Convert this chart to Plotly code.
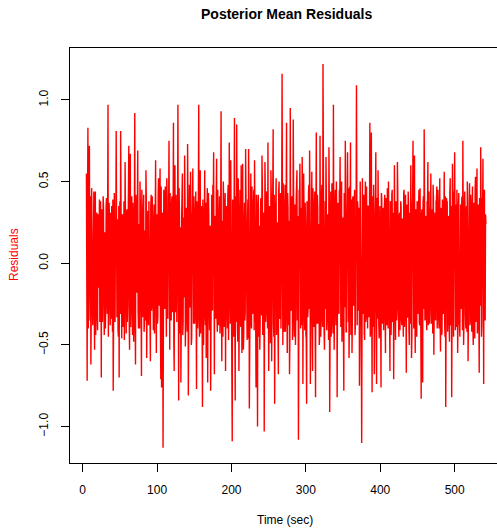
import plotly.graph_objects as go

# Posterior mean residuals.
# Samples on whole seconds, starting at t = 5 s
residuals = [
    0.55, -0.72, 0.83, -0.15, 0.72, -0.35, -0.62, 0.46, 0.12, -0.28,
    0.44, -0.53, 0.44, -0.18, 0.31, -0.41, 0.22, 0.05, -0.36, 0.38,
    -0.70, 0.26, -0.12, 0.34, -0.44, 0.18, -0.25, 0.40, -0.31, 0.97,
    -0.22, 0.29, -0.38, 0.15, 0.35, -0.42, -0.78, 0.30, -0.10, 0.24,
    0.81, -0.33, 0.21, -0.45, -0.70, 0.38, 0.81, -0.27, 0.12, -0.39,
    0.33, -0.47, 0.62, -0.21, 0.28, -0.36, 0.19, 0.72, -0.53, 0.67,
    -0.25, 0.41, -0.44, 0.16, -0.30, 0.92, -0.62, 0.35, -0.18, 0.69,
    -0.40, 0.24, 0.50, -0.30, -0.69, 0.33, -0.15, 0.42, -0.37, 0.20,
    0.57, -0.58, 0.27, -0.32, 0.38, -0.20, -0.60, 0.42, -0.26, 0.14,
    -0.41, 0.36, -0.09, 0.63, -0.55, 0.22, -0.33, 0.52, -0.24, 0.58,
    -0.71, -0.76, 0.31, -1.13, 0.45, -0.22, 0.47, -0.38, 0.52, -0.15,
    0.29, 0.75, -0.53, 0.20, -0.35, 0.41, -0.27, 0.86, -0.66, 0.60,
    -0.30, 0.25, -0.12, 0.97, -0.84, 0.33, -0.43, -0.73, 0.28, 0.55,
    -0.36, 0.19, 0.66, -0.51, 0.34, -0.25, 0.73, -0.81, 0.40, -0.22,
    0.56, -0.50, 0.31, 0.58, -0.37, 0.22, -0.29, 0.44, -0.77, 0.18,
    -0.31, 0.97, -0.45, 0.57, -0.20, 0.35, -0.88, 0.27, -0.14, 0.57,
    -0.38, -0.58, 0.32, -0.73, 0.43, -0.26, 0.21, -0.78, 0.37, -0.19,
    0.48, 0.68, -0.68, 0.25, -0.34, 0.64, -0.42, 0.30, -0.22, 0.41,
    -0.33, 0.93, -0.60, 0.18, 0.50, -0.39, 0.27, -0.66, 0.35, -0.28,
    0.40, -0.47, 0.74, -0.31, 0.63, -0.24, -1.09, 0.36, -0.45, 0.89,
    -0.84, 0.30, 0.85, -0.40, 0.52, -0.66, 0.28, -0.33, 0.60, -0.55,
    0.61, -0.53, 0.24, -0.35, 0.70, -0.28, -0.47, 0.39, 0.70, -0.89,
    0.31, 0.55, -0.40, 0.22, -0.31, 0.45, 0.63, -0.36, -0.76, 0.27,
    -1.00, 0.42, -0.25, -0.53, 0.33, -0.19, 0.66, -0.44, 0.29, -1.03,
    0.62, -0.36, 0.40, -0.22, 0.74, -0.66, 0.35, -0.29, 0.57, -0.60,
    0.28, 0.82, -0.45, -0.86, 0.37, 0.52, -0.31, 0.25, -0.68, 0.50,
    -0.34, 0.43, -0.21, 1.16, -0.50, 0.30, -0.42, 0.48, -0.26, 0.86,
    -0.55, 0.33, -0.38, -0.68, 0.95, -0.29, 0.41, -0.47, 0.88, -0.35,
    0.27, -0.50, 0.39, 0.57, -0.33, -1.08, 0.45, 0.61, -0.40, 0.23,
    0.65, -0.74, 0.55, -0.30, 0.37, -0.44, -0.86, 0.32, -0.27, 0.48,
    0.69, -0.74, 0.35, 0.56, -0.66, 0.28, -0.39, 0.44, -0.82, 0.80,
    -0.37, 0.34, -0.28, -0.50, 0.78, -0.45, 0.41, -0.32, 1.22, -0.35,
    -0.53, 0.38, 0.65, -0.41, 0.30, -0.26, 0.71, -0.91, 0.40, -0.45,
    0.49, -0.30, 0.97, -0.53, 0.34, -0.22, 0.50, -0.82, 0.37, -0.28,
    0.45, 0.65, -0.39, 0.50, -0.33, -0.53, -0.78, 0.36, 0.75, -0.42,
    0.29, 0.68, -0.36, -0.58, 0.47, 0.74, -0.31, -0.55, 0.40, -0.23,
    0.36, -0.44, 0.25, 1.09, -0.38, 0.33, -0.29, -0.75, 0.50, -0.35,
    -1.10, 0.52, -0.30, 0.41, -0.47, 0.50, -0.33, 0.27, -0.40, 0.35,
    -0.28, 0.86, -0.42, 0.80, -0.79, 0.33, 0.48, -0.68, 0.30, 0.68,
    -0.74, 0.40, 0.57, -0.37, 0.26, -0.45, -0.76, 0.40, -0.31, 0.34,
    -0.25, 0.42, -0.55, 0.30, -0.38, 0.22, 0.50, -0.40, -0.66, 0.36,
    -0.29, 0.45, -0.33, -0.71, 0.60, -0.27, 0.38, -0.35, 0.62, -0.22,
    -0.45, 0.31, -0.19, 0.35, -0.38, 0.27, -0.45, 0.45, -0.30, 0.42,
    -0.67, 0.29, -0.33, 0.37, -0.50, 0.24, 0.60, -0.58, 0.33, 0.75,
    -0.40, 0.66, -0.55, 0.28, -0.45, 0.36, -0.31, 0.45, -0.38, 0.20,
    -0.83, 0.33, -0.73, 0.41, 0.82, -0.35, 0.27, -0.30, 0.38, 0.62,
    -0.25, -0.37, 0.34, 0.55, -0.29, 0.30, 0.48, -0.56, 0.26, -0.33,
    0.38, 0.47, -0.30, 0.31, -0.40, 0.52, -0.54, 0.28, -0.42, 0.35,
    -0.31, 0.56, -0.45, -0.88, 0.40, 0.38, -0.33, 0.29, -0.48, 0.52,
    -0.36, -0.82, 0.61, -0.30, 0.44, 0.68, -0.41, 0.33, 0.45, -0.55,
    0.30, -0.37, -0.45, 0.36, -0.28, 0.41, 0.75, -0.50, 0.27, 0.32,
    -0.40, 0.35, 0.50, -0.60, 0.28, 0.49, -0.35, 0.31, -0.42, 0.47,
    -0.50, 0.33, -0.46, 0.53, -0.30, 0.58, -0.38, 0.36, -0.67, 0.29,
    0.71, -0.45, 0.40, 0.64, -0.74, 0.45, -0.35, 0.24,
]

# Samples on half seconds, starting at t = 5.5 s
residuals_half = [
    -0.21, 0.34, -0.40, 0.28, -0.12, 0.41, -0.30, 0.25, -0.38, 0.17,
    -0.29, 0.36, -0.44, 0.22, -0.33, 0.30, -0.15, 0.39, -0.27, 0.12,
    0.33, -0.36, 0.41, -0.24, 0.19, -0.40, 0.35, -0.18, 0.29, -0.45,
    0.37, -0.26, 0.31, -0.34, 0.20, 0.39, -0.29, 0.43, -0.36, 0.15,
    -0.32, 0.27, -0.41, 0.35, 0.22, -0.31, 0.40, -0.46, 0.30, -0.20,
    0.38, -0.28, 0.16, -0.43, 0.33, -0.25, 0.44, -0.35, 0.26, -0.39,
    0.31, -0.22, 0.37, -0.48, 0.29, -0.36, 0.42, -0.17, 0.34, -0.30,
    0.21, -0.40, 0.36, -0.27, 0.45, -0.33, 0.28, -0.42, 0.19, -0.35,
    0.40, -0.24, 0.32, -0.38, 0.14, -0.47, 0.35, -0.29, 0.41, -0.31,
    0.26, -0.43, 0.38, -0.20, 0.30, -0.37, 0.44, -0.26, 0.33, -0.40,
    0.47, -0.32, 0.24, -0.39, 0.36, -0.28, 0.20, -0.45, 0.40, -0.34,
    0.30, -0.41, 0.43, -0.23, 0.37, -0.30, 0.27, -0.49, 0.35, -0.19,
    0.42, -0.36, 0.31, -0.25, 0.46, -0.38, 0.22, -0.33, 0.39, -0.44,
    0.28, -0.21, 0.40, -0.35, 0.17, -0.42, 0.36, -0.29, 0.48, -0.27,
    0.33, -0.46, 0.25, -0.31, 0.41, -0.37, 0.30, -0.24, 0.38, -0.40,
    0.44, -0.28, 0.35, -0.43, 0.21, -0.34, 0.39, -0.50, 0.27, -0.32,
    0.37, -0.25, 0.46, -0.39, 0.30, -0.41, 0.23, -0.36, 0.42, -0.29,
    0.34, -0.47, 0.29, -0.22, 0.40, -0.33, 0.45, -0.38, 0.19, -0.43,
    0.36, -0.30, 0.26, -0.45, 0.38, -0.24, 0.43, -0.35, 0.31, -0.40,
    0.48, -0.27, 0.33, -0.37, 0.22, -0.44, 0.39, -0.31, 0.35, -0.26,
    0.41, -0.36, 0.28, -0.48, 0.34, -0.23, 0.45, -0.39, 0.30, -0.33,
    0.25, -0.42, 0.37, -0.29, 0.43, -0.35, 0.20, -0.46, 0.39, -0.28,
    0.32, -0.38, 0.47, -0.24, 0.36, -0.41, 0.29, -0.34, 0.42, -0.30,
    0.35, -0.45, 0.23, -0.37, 0.40, -0.32, 0.46, -0.27, 0.31, -0.43,
    0.38, -0.29, 0.44, -0.40, 0.27, -0.35, 0.33, -0.49, 0.41, -0.25,
    0.30, -0.37, 0.42, -0.31, 0.36, -0.44, 0.24, -0.38, 0.45, -0.33,
    0.28, -0.40, 0.35, -0.26, 0.49, -0.36, 0.31, -0.42, 0.38, -0.30,
    0.43, -0.34, 0.26, -0.47, 0.37, -0.28, 0.40, -0.39, 0.22, -0.45,
    0.36, -0.31, 0.44, -0.35, 0.29, -0.43, 0.41, -0.26, 0.34, -0.38,
    0.47, -0.30, 0.32, -0.41, 0.25, -0.46, 0.38, -0.33, 0.43, -0.28,
    0.39, -0.44, 0.30, -0.36, 0.46, -0.27, 0.35, -0.40, 0.28, -0.34,
    0.42, -0.37, 0.24, -0.45, 0.33, -0.30, 0.48, -0.39, 0.31, -0.42,
    0.36, -0.28, 0.41, -0.33, 0.27, -0.47, 0.37, -0.25, 0.44, -0.35,
    0.30, -0.43, 0.39, -0.29, 0.45, -0.38, 0.26, -0.41, 0.34, -0.31,
    0.40, -0.36, 0.32, -0.48, 0.28, -0.34, 0.43, -0.27, 0.37, -0.42,
    0.33, -0.30, 0.46, -0.37, 0.24, -0.44, 0.39, -0.32, 0.41, -0.26,
    0.45, -0.39, 0.29, -0.35, 0.38, -0.28, 0.34, -0.46, 0.27, -0.40,
    0.37, -0.31, 0.42, -0.43, 0.30, -0.36, 0.47, -0.29, 0.35, -0.33,
    0.28, -0.45, 0.36, -0.24, 0.41, -0.39, 0.32, -0.42, 0.44, -0.30,
    0.39, -0.34, 0.27, -0.46, 0.35, -0.31, 0.43, -0.37, 0.29, -0.41,
    0.34, -0.28, 0.40, -0.33, 0.46, -0.40, 0.25, -0.35, 0.38, -0.44,
    0.42, -0.36, 0.31, -0.29, 0.37, -0.47, 0.33, -0.26, 0.45, -0.32,
    0.29, -0.41, 0.38, -0.35, 0.27, -0.30, 0.43, -0.39, 0.34, -0.25,
    0.36, -0.33, 0.44, -0.40, 0.31, -0.37, 0.26, -0.45, 0.40, -0.29,
    0.41, -0.27, 0.33, -0.42, 0.38, -0.24, 0.35, -0.36, 0.46, -0.31,
    0.30, -0.44, 0.37, -0.28, 0.42, -0.34, 0.29, -0.41, 0.36, -0.38,
    0.44, -0.30, 0.27, -0.37, 0.33, -0.43, 0.40, -0.26, 0.31, -0.35,
    0.38, -0.40, 0.45, -0.32, 0.28, -0.36, 0.34, -0.44, 0.39, -0.27,
    0.32, -0.35, 0.41, -0.29, 0.37, -0.42, 0.26, -0.33, 0.43, -0.38,
    0.35, -0.31, 0.28, -0.45, 0.40, -0.27, 0.36, -0.39, 0.30, -0.34,
    0.43, -0.37, 0.33, -0.26, 0.39, -0.41, 0.29, -0.35, 0.44, -0.30,
    0.31, -0.42, 0.38, -0.34, 0.27, -0.38, 0.42, -0.28, 0.35, -0.40,
    0.37, -0.29, 0.45, -0.36, 0.32, -0.43, 0.30, -0.33, 0.40, -0.26,
    0.34, -0.38, 0.28, -0.31, 0.36, -0.27, 0.30,
]
start_time = 5

# merge the two sample sets in time order
time_sec, values = [], []
for i, v in enumerate(residuals):
    time_sec.append(start_time + i)
    values.append(v)
    if i < len(residuals_half):
        time_sec.append(start_time + i + 0.5)
        values.append(residuals_half[i])

x_ticks = [0, 100, 200, 300, 400, 500]
y_ticks = [-1.0, -0.5, 0.0, 0.5, 1.0]
y_tick_labels = ["\u22121.0", "\u22120.5", "0.0", "0.5", "1.0"]

FONT = "Liberation Sans, Arial, Helvetica, sans-serif"

fig = go.Figure()
fig.add_trace(go.Scatter(
    x=time_sec, y=values, mode="lines",
    line=dict(color="#FF0000", width=1.4),
    hoverinfo="skip", showlegend=False,
))

fig.update_layout(
    width=497, height=528,
    margin=dict(l=70, r=0, t=48, b=65),
    paper_bgcolor="white", plot_bgcolor="white",
    font=dict(family=FONT, size=12, color="black"),
    showlegend=False,
    xaxis=dict(
        range=[-17.07, 556.9], tickvals=x_ticks,
        ticks="outside", ticklen=8, tickwidth=1, tickcolor="black",
        showline=True, linecolor="black", linewidth=1, mirror=True,
        showgrid=False, zeroline=False,
        tickfont=dict(family=FONT, size=12, color="black"),
        ticklabelstandoff=8,
    ),
    yaxis=dict(
        range=[-1.223, 1.318], tickvals=y_ticks, ticktext=y_tick_labels,
        tickangle=-90,
        ticks="outside", ticklen=8, tickwidth=1, tickcolor="black",
        showline=True, linecolor="black", linewidth=1, mirror=False,
        showgrid=False, zeroline=False,
        tickfont=dict(family=FONT, size=12, color="black"),
        ticklabelstandoff=8,
    ),
    annotations=[
        dict(text="<b>Posterior Mean Residuals</b>", xref="paper", yref="paper",
             x=(286 - 70) / 427, y=1 + (48 - 14) / 415, xanchor="center", yanchor="middle",
             showarrow=False, font=dict(family=FONT, size=14, color="black")),
        dict(text="Time (sec)", xref="paper", yref="paper",
             x=(285 - 70) / 427, y=-(520 - 463) / 415, xanchor="center", yanchor="middle",
             showarrow=False, font=dict(family=FONT, size=12, color="black")),
        dict(text="Residuals", xref="paper", yref="paper", textangle=-90,
             x=-(70 - 14) / 427, y=(463 - 255) / 415, xanchor="center", yanchor="middle",
             showarrow=False, font=dict(family=FONT, size=12, color="#FF0000")),
    ],
)

fig.write_html("out.html")
